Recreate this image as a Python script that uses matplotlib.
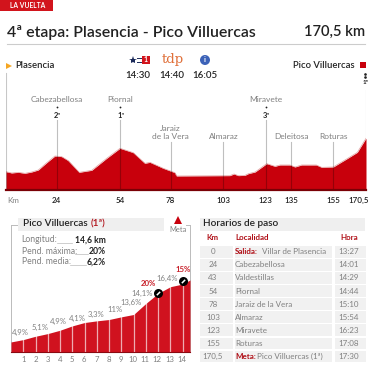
import matplotlib
matplotlib.use("Agg")
import matplotlib.pyplot as plt
from matplotlib.patches import Rectangle, Circle

plt.rcParams['font.family'] = ['Lato', 'DejaVu Sans']

# stage profile
stage_km = [0, 2.7, 5.8, 9, 12.2, 15.3, 19.3, 23.2, 26.4, 29.5, 34.7, 40.6, 47.7, 54, 60.3, 65.8, 68.2, 74.5,
            80, 80.8, 106, 108, 110, 113.2, 114.8, 118, 123.5, 127.4, 129.8, 134.5, 136.9, 140, 147, 149.5,
            155, 161.3, 166.4, 170.5]
stage_alt = [550, 510, 530, 500, 540, 600, 820, 1020, 1000, 880, 530, 590, 950, 1250, 1120, 800, 830, 650,
             520, 420, 430, 480, 430, 440, 490, 540, 790, 710, 750, 750, 690, 750, 750, 680,
             690, 930, 1130, 1550]
place_km = [24, 54, 78, 103, 123, 135, 155]
place_names = ['Cabezabellosa', 'Piornal', 'Jaraiz\nde la Vera', 'Almaraz', 'Miravete', 'Deleitosa', 'Roturas']
place_tops = [2100, 2100, 1450, 1450, 2100, 1450, 1450]
km_labels = ['24', '54', '78', '103', '123', '135', '155', '170,5']
km_ticks = [24, 54, 78, 103, 123, 135, 155, 170.5]
cats = {24: '2ª', 54: '1ª', 123: '3ª'}

# final climb
climb_km = [0, 1, 2, 3, 4, 5, 6, 7, 8, 9, 10, 11, 12, 13, 14, 14.6]
climb_alt = [150, 185, 235, 275, 325, 390, 440, 465, 485, 525, 560, 725, 875, 975, 1015, 1075]
climb_grad = ['4,9%', '5,1%', '4,9%', '4,1%', '3,3%', '11%', '13,6%', '14,1%', '20%', '16,4%', '15%']
grad_x = [20.7, 40, 58, 77, 96, 115, 131, 142, 148, 167, 183]
grad_y = [332, 327, 321, 318, 314, 310, 302, 293, 283, 278, 269]

# timetable
t_km = ['0', '24', '43', '54', '78', '103', '123', '155', '170,5']
t_place = ['Villar de Plasencia', 'Cabezabellosa', 'Valdestillas', 'Piornal', 'Jaraiz de la Vera', 'Almaraz',
           'Miravete', 'Roturas', 'Pico Villuercas (1ª)']
t_hour = ['13:27', '14:01', '14:29', '14:44', '15:10', '15:54', '16:23', '17:08', '17:30']

RED = '#c8000c'
GREY = '#808080'
DARK = '#222222'
TRED = '#b01018'

fig = plt.figure(figsize=(3.75, 3.71), dpi=100)

# page axes in pixels, for the texts and boxes
pg = fig.add_axes([0, 0, 1, 1], zorder=0)
pg.set_xlim(0, 375)
pg.set_ylim(371, 0)
pg.axis('off')


def px_axes(x0, x1, y0, y1):
    a = fig.add_axes([x0 / 375, 1 - y1 / 371, (x1 - x0) / 375, (y1 - y0) / 371], zorder=1)
    a.patch.set_alpha(0)
    a.axis('off')
    return a


# header
pg.add_patch(Rectangle((0, 0), 53, 11, color='#d2141c', lw=0))
pg.text(10, 5.7, 'LA VUELTA', color='white', fontsize=4.9, fontweight='bold', ha='left', va='center')
pg.text(7, 32, '4ª etapa: Plasencia - Pico Villuercas', fontsize=11.4, color=DARK, fontweight='semibold', ha='left', va='center')
pg.text(365, 32, '170,5 km', fontsize=10.6, color=DARK, fontweight='semibold', ha='right', va='center')
pg.plot([7, 365], [43.5, 43.5], color='#cccccc', lw=0.8)

pg.plot([9], [66], marker='>', color='#f5a623', ms=4, mew=0)
pg.text(15, 65.5, 'Plasencia', fontsize=6.8, color=DARK, fontweight='semibold', ha='left', va='center')
pg.text(355, 65.5, 'Pico Villuercas', fontsize=6.8, color=DARK, fontweight='semibold', ha='right', va='center')
pg.add_patch(Rectangle((360, 62), 5.5, 6, color=RED, lw=0))
pg.plot([365, 365], [74, 77], color=DARK, lw=0, marker='o', ms=0.9)
pg.text(365.5, 82, '1ª', fontsize=4.6, color=DARK, fontweight='bold', ha='center', va='center')

# tv channels
pg.plot([133], [60], marker='*', color='#1b2a5a', ms=6, mew=0)
pg.plot([137, 141], [58, 58], color='#1b2a5a', lw=0.7)
pg.plot([137, 141], [62, 62], color='#1b2a5a', lw=0.7)
pg.add_patch(Rectangle((142, 56), 8, 8, color='#d2141c', lw=0))
pg.text(146, 60, '1', fontsize=5, color='white', fontweight='bold', ha='center', va='center')
pg.text(173, 60, 'tdp', fontsize=9.5, color='#e0703a', family='DejaVu Serif', ha='center', va='center')
pg.add_patch(Circle((205, 60), 5, color='#3c62b8', lw=0))
pg.text(205, 60, 'i', fontsize=5.5, color='white', fontweight='bold', ha='center', va='center')
for x, t in zip([138, 171.5, 205], ['14:30', '14:40', '16:05']):
    pg.text(x, 75, t, fontsize=7, color=DARK, fontweight='semibold', ha='center', va='center')

# stage profile, 30 m a pixel
ax = px_axes(6, 366, 70, 190)
ax.set_xlim(0, 170.5)
ax.set_ylim(0, 3600)
ax.fill_between(stage_km, stage_alt, 0, color=RED, lw=0, zorder=1)
ax.plot(stage_km, stage_alt, color='#e2a0a0', lw=0.5, zorder=1)
ax.plot([0, 170.5], [0, 0], color='#7a0006', lw=1.6, clip_on=False, zorder=3)
ax.plot([0, 0], [0, 3500], color='black', alpha=0.22, lw=0.8, zorder=2)
ax.plot([170.5, 170.5], [0, 3000], color='black', alpha=0.22, lw=0.8, zorder=2)
for km, name, top in zip(place_km, place_names, place_tops):
    ax.plot([km, km], [0, top], color='black', alpha=0.25, lw=0.8, zorder=2)
    if top > 1500:
        ax.text(km, top + 600, name, fontsize=6, color=GREY, ha='center', va='center')
        ax.text(km + 0.3, top + 150, cats[km], fontsize=5.4, color=DARK, fontweight='bold', ha='center', va='center')
        ax.plot([km], [top + 390], marker='o', color=DARK, ms=1.3, mew=0)
    else:
        ax.text(km, top + 60, name, fontsize=6, color=GREY, ha='center', va='bottom', linespacing=1.1)

pg.text(7, 200.5, 'Km', fontsize=5.8, color=GREY, ha='left', va='center')
for km, lab in zip(km_ticks, km_labels):
    x = 6 + km / 170.5 * 360
    if km == 170.5:
        x = 359
    pg.text(x, 200.5, lab, fontsize=5.8, color=DARK, fontweight='semibold', ha='center', va='center')

# climb panel
pg.plot([11, 11], [225, 351], color='#bbbbbb', lw=0.7)
pg.plot([190, 190], [226, 351], color='#bbbbbb', lw=0.7)
pg.plot([11, 17], [225, 225], color='#bbbbbb', lw=0.7)
pg.plot([186, 190], [225, 225], color='#bbbbbb', lw=0.7)
pg.add_patch(Rectangle((18, 218), 146, 12.5, color='#efefef', lw=0))
pg.text(23, 224, 'Pico Villuercas', fontsize=7.2, color=DARK, fontweight='semibold', ha='left', va='center')
pg.text(91, 224, '(1ª)', fontsize=7.2, color=TRED, fontweight='semibold', ha='left', va='center')
pg.plot([178], [220], marker='^', color=RED, ms=5.5, mew=0)
pg.text(178, 229, 'Meta', fontsize=5.4, color=GREY, ha='center', va='center')
stats = [('Longitud:', '14,6 km', 240, 57, 72), ('Pend. máxima:', '20%', 251, 75, 88), ('Pend. media:', '6,2%', 262, 70, 86)]
for lab, val, y, lx0, lx1 in stats:
    pg.text(21.5, y, lab, fontsize=6.2, color=GREY, ha='left', va='center')
    pg.text(105.5, y, val, fontsize=6.2, color=DARK, fontweight='bold', ha='right', va='center')
    pg.plot([lx0, lx1], [y + 3, y + 3], color='#bbbbbb', lw=0.5)

cl = px_axes(11, 190, 280, 352)
cl.set_xlim(0, 14.6)
cl.set_ylim(0, 1075)
cl.fill_between(climb_km, climb_alt, 0, color='#d0121f', lw=0, zorder=1)
for k, a in zip(climb_km[1:-1], climb_alt[1:-1]):
    cl.plot([k, k], [0, a], color='white', alpha=0.65, lw=0.9, zorder=2)
cl.plot([0, 14.6], [0, 0], color='#8a0a12', lw=0.8, clip_on=False, zorder=3)
cl.plot([12, 14], [885, 1060], ls='', marker='o', color='black', ms=6.5, mew=0, clip_on=False, zorder=4)
cl.plot([12, 14], [885, 1060], ls='', marker=(2, 0, -45), color='white', ms=3.4, mew=1.1, clip_on=False, zorder=5)
for k in climb_km[1:-1]:
    pg.text(11 + k * 12.2, 359.5, str(k), fontsize=5.6, color=GREY, ha='center', va='center')
for t, x, y in zip(climb_grad, grad_x, grad_y):
    hard = t in ('20%', '15%')
    pg.text(x, y, t, fontsize=5.6, color='#c8202a' if hard else GREY, fontweight='bold' if hard else 'normal',
            ha='center', va='center')

# timetable
pg.add_patch(Rectangle((200, 218), 165, 13, color='#efefef', lw=0))
pg.text(203, 224, 'Horarios de paso', fontsize=7.2, color=DARK, fontweight='semibold', ha='left', va='center')
pg.text(212, 237.5, 'Km', fontsize=5.8, color=TRED, fontweight='bold', ha='center', va='center')
pg.text(235, 237.5, 'Localidad', fontsize=5.8, color=TRED, fontweight='bold', ha='left', va='center')
pg.text(349, 237.5, 'Hora', fontsize=5.8, color=TRED, fontweight='bold', ha='center', va='center')
for i, (k, p, h) in enumerate(zip(t_km, t_place, t_hour)):
    y = 251.7 + i * 13.1
    pg.add_patch(Rectangle((200, y - 5.8), 33, 11.6, color='#f1f1f1', lw=0))
    pg.add_patch(Rectangle((235, y - 5.8), 97, 11.6, color='#f1f1f1', lw=0))
    pg.add_patch(Rectangle((335, y - 5.8), 31, 11.6, color='#f1f1f1', lw=0))
    pg.text(213, y, k, fontsize=5.8, color=GREY, ha='center', va='center')
    pg.text(349, y, h, fontsize=5.8, color=GREY, ha='center', va='center')
    if i == 0:
        pg.text(235, y, 'Salida:', fontsize=5.8, color=TRED, fontweight='bold', ha='left', va='center')
        pg.text(262, y, p, fontsize=5.8, color=GREY, ha='left', va='center')
    elif i == 8:
        pg.text(235, y, 'Meta:', fontsize=5.8, color=TRED, fontweight='bold', ha='left', va='center')
        pg.text(257, y, p, fontsize=5.8, color=GREY, ha='left', va='center')
    else:
        pg.text(235, y, p, fontsize=5.8, color=GREY, ha='left', va='center')

fig.savefig('out.png', dpi=100)
